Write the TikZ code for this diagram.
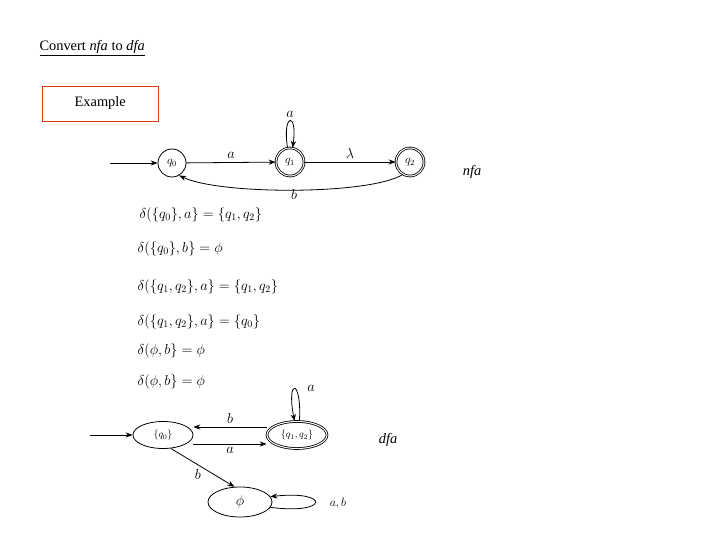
\documentclass[tikz,border=0pt]{standalone}
\usepackage{fontspec}
\setmainfont{Liberation Serif}
\usetikzlibrary{arrows.meta,shapes.geometric}
\begin{document}
\begin{tikzpicture}[x=1pt,y=-1pt,
  st/.style={circle,draw,thick,minimum size=28pt,inner sep=0pt,font=\large},
  acc/.style={st,double,double distance=1pt},
  es/.style={ellipse,draw,thick,minimum width=60pt,minimum height=27pt,inner sep=0pt},
  tr/.style={-{Stealth[length=7pt]},thick},
  lb/.style={font=\Large},
  eq/.style={anchor=west,font=\Large}]
\useasboundingbox (0,0) rectangle (720,540);
\node[anchor=west,font=\Large] (title) at (36,48) {\underline{Convert \textit{nfa} to \textit{dfa}}};
\node[draw=red!60!brown,anchor=west,minimum width=116pt,minimum height=35pt,font=\Large] (ex) at (42,103.5) {Example};
% NFA
\node[st] (q0) at (172,163) {$q_0$};
\node[acc] (q1) at (290,162) {$q_1$};
\node[acc] (q2) at (410,162) {$q_2$};
\coordinate (s0) at (110,163);
\draw[tr] (s0) -- (q0);
\draw[tr] (q0) -- node[lb,above] {$a$} (q1);
\draw[tr] (q1) -- node[lb,above] {$\lambda$} (q2);
\draw[tr] (q1.100) .. controls (282,112) and (298,112) .. node[lb,above] {$a$} (q1.80);
\draw[tr] (q2.-120) .. controls (370,195) and (220,195) .. node[lb,below=-4pt] {$b$} (q0.-60);
\node[font=\Large\itshape] (nfa) at (472,172) {nfa};
% equations
\node[eq] (e1) at (136,215) {$\delta(\{q_0\},a\}=\{q_1,q_2\}$};
\node[eq] (e2) at (134,249) {$\delta(\{q_0\},b\}=\phi$};
\node[eq] (e3) at (134,287) {$\delta(\{q_1,q_2\},a\}=\{q_1,q_2\}$};
\node[eq] (e4) at (134,322) {$\delta(\{q_1,q_2\},a\}=\{q_0\}$};
\node[eq] (e5) at (134,351) {$\delta(\phi,b\}=\phi$};
\node[eq] (e6) at (134,382) {$\delta(\phi,b\}=\phi$};
% DFA
\node[es] (d0) at (163,435) {$\{q_0\}$};
\node[es,double,double distance=1pt] (d1) at (297,435) {$\{q_1,q_2\}$};
\node[es,minimum width=64pt,minimum height=30pt] (d2) at (240,502) {\Large$\phi$};
\coordinate (s1) at (90,435);
\draw[tr] (s1) -- (d0);
\draw[tr] (d1.west|-0,427) -- node[lb,above] {$b$} (d0.east|-0,427);
\draw[tr] (d0.east|-0,444) -- node[lb,below] {$a$} (d1.west|-0,444);
\draw[tr] (d0.-60) -- node[lb,below left=-2pt] {$b$} (d2.110);
\draw[tr] (d1.80) .. controls (302,378) and (286,378) .. (d1.100);
\node[lb] (la) at (311,388) {$a$};
\draw[tr] (d2.-10) .. controls (330,515) and (330,490) .. (d2.10);
\node[font=\large] (lab) at (338,503) {$a,b$};
\node[font=\Large\itshape] (dfa) at (388,440) {dfa};
\end{tikzpicture}
\end{document}
